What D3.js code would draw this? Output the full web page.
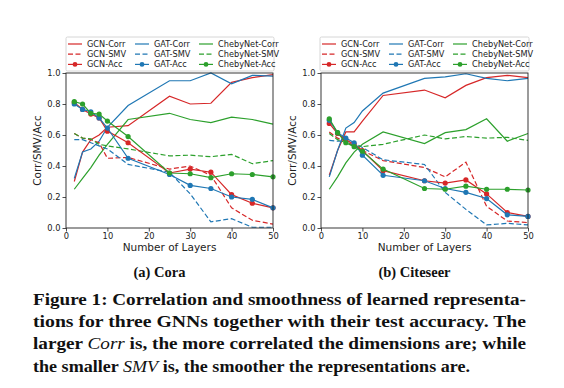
<!DOCTYPE html>
<html>
<head>
<meta charset="utf-8">
<script src="https://cdn.jsdelivr.net/npm/d3@7"></script>
<style>
  body { margin: 0; background: #fff; }
  svg text { font-family: "DejaVu Sans", sans-serif; }
</style>
</head>
<body>
<div id="chart"></div>
<script>
var width = 564;
var height = 388;

// layer counts on the x axis
var layers = [2, 4, 6, 8, 10, 15, 25, 30, 35, 40, 45, 50];
var xTicks = [0, 10, 20, 30, 40, 50];
var yTicks = [0, 0.2, 0.4, 0.6, 0.8, 1.0];

// Cora
var coraGcnCorr = [0.30, 0.49, 0.57, 0.60, 0.65, 0.66, 0.85, 0.80, 0.805, 0.94, 0.97, 0.99];
var coraGatCorr = [0.32, 0.49, 0.51, 0.56, 0.65, 0.79, 0.95, 0.95, 1.0, 0.93, 0.985, 0.98];
var coraChebCorr = [0.25, 0.32, 0.39, 0.47, 0.54, 0.70, 0.74, 0.70, 0.68, 0.715, 0.70, 0.67];
var coraGcnSmv = [0.61, 0.58, 0.57, 0.55, 0.45, 0.455, 0.38, 0.40, 0.34, 0.13, 0.05, 0.025];
var coraGatSmv = [0.57, 0.57, 0.55, 0.53, 0.51, 0.41, 0.36, 0.22, 0.04, 0.06, 0.005, 0.005];
var coraChebSmv = [0.61, 0.58, 0.575, 0.54, 0.53, 0.51, 0.465, 0.47, 0.46, 0.475, 0.415, 0.435];
var coraGcnAcc = [0.81, 0.765, 0.735, 0.71, 0.625, 0.55, 0.355, 0.38, 0.36, 0.215, 0.16, 0.13];
var coraGatAcc = [0.80, 0.765, 0.75, 0.71, 0.645, 0.45, 0.345, 0.275, 0.255, 0.20, 0.185, 0.13];
var coraChebAcc = [0.815, 0.80, 0.74, 0.735, 0.69, 0.59, 0.355, 0.35, 0.325, 0.35, 0.345, 0.33];

// Citeseer
var citeGcnCorr = [0.34, 0.50, 0.62, 0.62, 0.69, 0.855, 0.89, 0.84, 0.92, 0.97, 0.985, 0.97];
var citeGatCorr = [0.33, 0.50, 0.645, 0.68, 0.755, 0.87, 0.965, 0.975, 0.995, 0.965, 0.95, 0.965];
var citeChebCorr = [0.25, 0.33, 0.42, 0.49, 0.54, 0.62, 0.545, 0.615, 0.635, 0.705, 0.56, 0.61];
var citeGcnSmv = [0.62, 0.58, 0.56, 0.53, 0.50, 0.435, 0.39, 0.33, 0.425, 0.14, 0.045, 0.035];
var citeGatSmv = [0.565, 0.56, 0.56, 0.55, 0.52, 0.44, 0.41, 0.23, 0.12, 0.02, 0.03, 0.02];
var citeChebSmv = [0.61, 0.57, 0.55, 0.53, 0.525, 0.54, 0.60, 0.575, 0.59, 0.58, 0.585, 0.565];
var citeGcnAcc = [0.675, 0.61, 0.57, 0.54, 0.50, 0.37, 0.305, 0.29, 0.31, 0.22, 0.10, 0.075];
var citeGatAcc = [0.695, 0.615, 0.58, 0.55, 0.47, 0.34, 0.305, 0.255, 0.23, 0.19, 0.085, 0.075];
var citeChebAcc = [0.705, 0.615, 0.55, 0.525, 0.495, 0.38, 0.255, 0.25, 0.27, 0.25, 0.25, 0.245];

var red = "#d62728", blue = "#1f77b4", green = "#2ca02c";

// legend order is column by column like matplotlib
var legendNames = ["GCN-Corr", "GCN-SMV", "GCN-Acc", "GAT-Corr", "GAT-SMV", "GAT-Acc",
                   "ChebyNet-Corr", "ChebyNet-SMV", "ChebyNet-Acc"];
var legendColors = [red, red, red, blue, blue, blue, green, green, green];
var legendKinds = ["corr", "smv", "acc", "corr", "smv", "acc", "corr", "smv", "acc"];

var panels = [
  { left: 66, right: 273, title: "(a) Cora", legendLeft: 66, legendRight: 274,
    cols: [0, 67, 131],
    series: [coraGcnCorr, coraGcnSmv, coraGcnAcc, coraGatCorr, coraGatSmv, coraGatAcc,
             coraChebCorr, coraChebSmv, coraChebAcc] },
  { left: 321, right: 528, title: "(b) Citeseer", legendLeft: 320, legendRight: 529,
    cols: [0, 67, 131],
    series: [citeGcnCorr, citeGcnSmv, citeGcnAcc, citeGatCorr, citeGatSmv, citeGatAcc,
             citeChebCorr, citeChebSmv, citeChebAcc] }
];

var plotTop = 73, plotBottom = 228;

var svg = d3.select("#chart").append("svg")
    .attr("width", width)
    .attr("height", height);

panels.forEach(function (p) {
    var x = d3.scaleLinear().domain([0, 50]).range([p.left, p.right]);
    var y = d3.scaleLinear().domain([0, 1]).range([plotBottom, plotTop]);
    var g = svg.append("g");

    var line = d3.line()
        .x(function (d, i) { return x(layers[i]); })
        .y(function (d) { return y(d); });

    // draw order: corr, smv, acc for each model
    var order = [0, 3, 6, 1, 4, 7, 2, 5, 8];
    order.forEach(function (k) {
        var data = p.series[k];
        var path = g.append("path")
            .datum(data)
            .attr("d", line)
            .attr("fill", "none")
            .attr("stroke", legendColors[k])
            .attr("stroke-width", 1.2);
        if (legendKinds[k] == "smv") {
            path.attr("stroke-dasharray", "5,2.5");
        }
        if (legendKinds[k] == "acc") {
            g.selectAll(null)
                .data(data)
                .enter().append("circle")
                .attr("cx", function (d, i) { return x(layers[i]); })
                .attr("cy", function (d) { return y(d); })
                .attr("r", 2.6)
                .attr("fill", legendColors[k]);
        }
    });

    // axes
    var xAxis = g.append("g")
        .attr("transform", "translate(0," + plotBottom + ")")
        .call(d3.axisBottom(x).tickValues(xTicks).tickSize(3.5).tickPadding(1.5).tickSizeOuter(0));
    var yAxis = g.append("g")
        .attr("transform", "translate(" + p.left + ",0)")
        .call(d3.axisLeft(y).tickValues(yTicks).tickFormat(d3.format(".1f")).tickSize(3.5).tickPadding(2).tickSizeOuter(0));
    [xAxis, yAxis].forEach(function (a) {
        a.selectAll("text").attr("font-size", 8.3).attr("fill", "#222")
            .style("font-family", "DejaVu Sans");
        a.selectAll("line").attr("stroke", "#222").attr("stroke-width", 0.8);
        a.select(".domain").remove();
    });

    // frame
    g.append("rect")
        .attr("x", p.left).attr("y", plotTop)
        .attr("width", p.right - p.left).attr("height", plotBottom - plotTop)
        .attr("fill", "none").attr("stroke", "#222").attr("stroke-width", 0.9);

    g.append("text")
        .attr("x", (p.left + p.right) / 2).attr("y", 251)
        .attr("text-anchor", "middle")
        .attr("font-size", 10.5).attr("fill", "#222")
        .text("Number of Layers");

    g.append("text")
        .attr("transform", "translate(" + (p.left - 25) + "," + ((plotTop + plotBottom) / 2) + ") rotate(-90)")
        .attr("text-anchor", "middle")
        .attr("font-size", 10.5).attr("fill", "#222")
        .text("Corr/SMV/Acc");

    // legend
    var lg = g.append("g");
    lg.append("rect")
        .attr("x", p.legendLeft).attr("y", 37)
        .attr("width", p.legendRight - p.legendLeft).attr("height", 34)
        .attr("rx", 1.5)
        .attr("fill", "#fff").attr("fill-opacity", 0.85)
        .attr("stroke", "#ccc").attr("stroke-width", 0.8);
    legendNames.forEach(function (name, k) {
        var col = Math.floor(k / 3), row = k % 3;
        var lx = p.legendLeft + 2 + p.cols[col];
        var ly = 44 + row * 10.2;
        var h = lg.append("line")
            .attr("x1", lx).attr("x2", lx + 14)
            .attr("y1", ly).attr("y2", ly)
            .attr("stroke", legendColors[k]).attr("stroke-width", 1.2);
        if (legendKinds[k] == "smv") h.attr("stroke-dasharray", "5,2.5");
        if (legendKinds[k] == "acc") {
            lg.append("circle").attr("cx", lx + 7).attr("cy", ly).attr("r", 2.4)
                .attr("fill", legendColors[k]);
        }
        lg.append("text")
            .attr("x", lx + 19).attr("y", ly + 3)
            .attr("font-size", 8.2).attr("fill", "#222")
            .text(name);
    });

    g.append("text")
        .attr("x", (p.left + p.right) / 2 - 10).attr("y", 277)
        .attr("text-anchor", "middle")
        .style("font-family", "Liberation Serif, serif")
        .attr("font-weight", "bold")
        .attr("font-size", 14.5)
        .attr("fill", "#111")
        .text(p.title);
});

// caption
var captionLines = [
  [["Figure 1: Correlation and smoothness of learned representa-", false]],
  [["tions for three GNNs together with their test accuracy. The", false]],
  [["larger ", false], ["Corr", true], [" is, the more correlated the dimensions are; while", false]],
  [["the smaller ", false], ["SMV", true], [" is, the smoother the representations are.", false]]
];
var captionWidths = [493, 493, 493, 437];
captionLines.forEach(function (parts, i) {
    var t = svg.append("text")
        .attr("x", 33).attr("y", 305 + i * 22.2)
        .style("font-family", "Liberation Serif, serif")
        .attr("font-size", 16.5)
        .attr("fill", "#111")
        .attr("textLength", captionWidths[i])
        .attr("lengthAdjust", "spacingAndGlyphs");
    parts.forEach(function (pt) {
        t.append("tspan")
            .attr("font-weight", pt[1] ? "normal" : "bold")
            .attr("font-style", pt[1] ? "italic" : "normal")
            .text(pt[0]);
    });
});
</script>
</body>
</html>
